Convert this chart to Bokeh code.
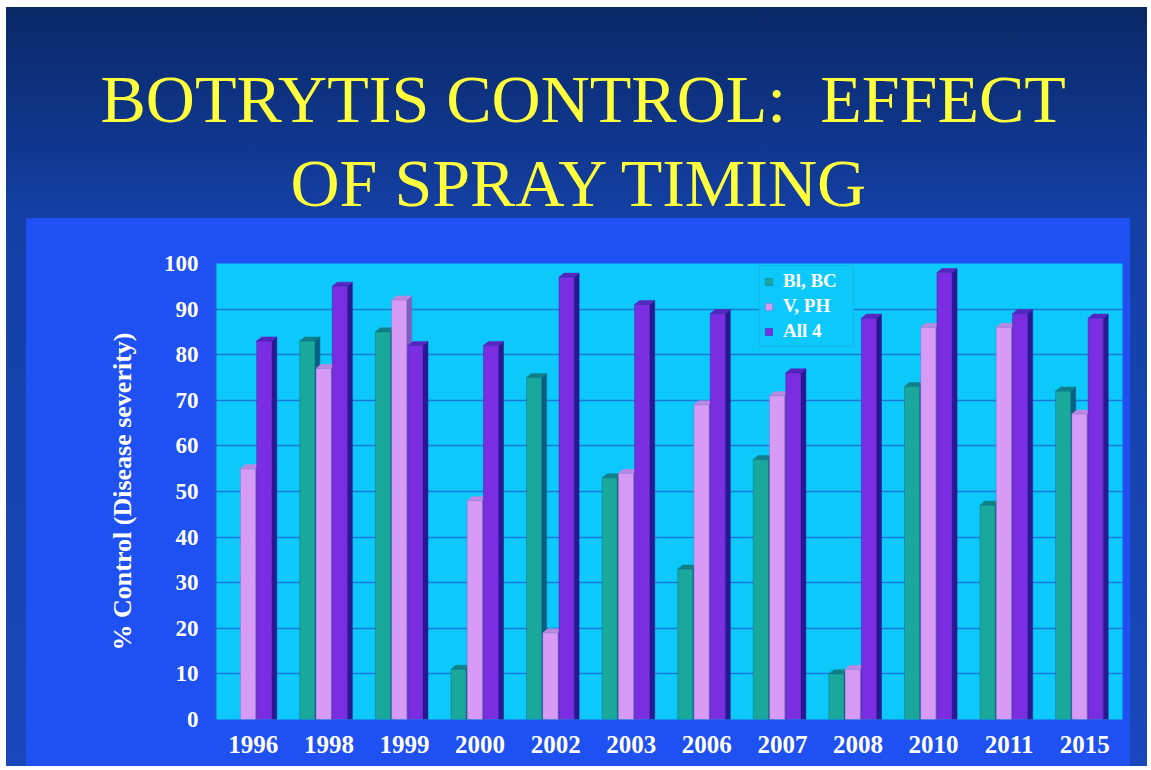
import numpy as np
from bokeh.plotting import figure
from bokeh.models import Range1d, FixedTicker, Legend, LegendItem, Title
from bokeh.embed import file_html
from bokeh.resources import INLINE

# ---------------- data ----------------
years = ["1996", "1998", "1999", "2000", "2002", "2003",
         "2006", "2007", "2008", "2010", "2011", "2015"]
bl_bc = [None, 83, 85, 11, 75, 53, 33, 57, 10, 73, 47, 72]
v_ph = [55, 77, 92, 48, 19, 54, 69, 71, 11, 86, 86, 67]
all_4 = [83, 95, 82, 82, 97, 91, 89, 76, 88, 98, 89, 88]
series_names = ["Bl, BC", "V, PH", "All 4"]
y_ticks = [0, 10, 20, 30, 40, 50, 60, 70, 80, 90, 100]
title_lines = ["BOTRYTIS CONTROL:\u00a0 EFFECT", "OF SPRAY TIMING"]
y_title = "% Control (Disease severity)"

# ---------------- styles ----------------
SERIF = "Liberation Serif"
PANEL = "#1f50f2"
CYAN = "#0dc8fb"
styles = [
    # front, top, side, offset
    ("#19a89b", "#0f8088", "#0a5f80", -0.285),
    ("#d79bf6", "#b98ae2", "#7e5fbf", -0.07),
    ("#7b2de2", "#5626c0", "#2a1890", 0.145),
]
W = 0.20     # bar width (category units)
DX = 0.066   # depth in x
DY = 0.9     # depth in y (value units)

CW, CH = 1141, 759                  # canvas size
FL, FR, FT, FB = 209, 25, 256, 47   # frame borders

bg = ("linear-gradient(%s, %s) 20px 211px / 1104px 548px no-repeat, "
      "linear-gradient(180deg, #0a2866 0%%, #1440a6 28%%, #1a48bb 100%%)" % (PANEL, PANEL))

n = len(years)
centers = list(range(1, n + 1))
p = figure(width=CW, height=CH, output_backend="svg", toolbar_location=None,
           x_range=Range1d(0.5, n + 0.5), y_range=Range1d(0, 100),
           min_border_left=FL, min_border_right=FR, min_border_top=FT,
           min_border_bottom=FB, margin=(7, 0, 0, 6),
           styles={"background": bg})
p.border_fill_alpha = 0
p.background_fill_color = CYAN
p.outline_line_color = None
p.xgrid.visible = False
p.ygrid.ticker = FixedTicker(ticks=y_ticks)
p.ygrid.grid_line_color = "#1a78d6"
p.ygrid.grid_line_width = 1.5

fronts = []
for data, (fc, tc, sc, off) in zip([bl_bc, v_ph, all_4], styles):
    vals = np.array([np.nan if v is None else v for v in data], dtype=float)
    mask = ~np.isnan(vals)
    xc = np.array(centers, dtype=float)[mask] + off
    vv = vals[mask]
    x0 = xc - W / 2
    x1 = xc + W / 2
    side_xs = [[b, b + DX, b + DX, b] for b in x1]
    side_ys = [[v, v + DY, 0, 0] for v in vv]
    top_xs = [[a, a + DX, b + DX, b] for a, b in zip(x0, x1)]
    top_ys = [[v, v + DY, v + DY, v] for v in vv]
    p.patches(side_xs, side_ys, fill_color=sc, line_color=sc, line_width=0.5)
    p.patches(top_xs, top_ys, fill_color=tc, line_color=tc, line_width=0.5)
    r = p.vbar(x=xc, top=vv, bottom=0, width=W, fill_color=fc,
               line_color=sc, line_width=0.6, line_alpha=0.6)
    fronts.append(r)

# axes
p.xaxis.ticker = FixedTicker(ticks=centers)
p.xaxis.major_label_overrides = {c: y for c, y in zip(centers, years)}
p.yaxis.ticker = FixedTicker(ticks=y_ticks)
for ax in (p.xaxis, p.yaxis):
    ax.major_tick_line_color = None
    ax.minor_tick_line_color = None
    ax.major_tick_out = 0
    ax.major_tick_in = 0
    ax.major_label_text_font = SERIF
    ax.major_label_text_font_style = "bold"
    ax.major_label_text_color = "#ffffff"
p.xaxis.axis_line_color = None
p.xaxis.major_label_text_font_size = "25px"
p.xaxis.major_label_standoff = 16
p.yaxis.axis_line_color = "#1a5fd8"
p.yaxis.axis_line_width = 2
p.yaxis.major_label_text_font_size = "23px"
p.yaxis.major_label_standoff = 17
p.yaxis.axis_label = y_title
p.yaxis.axis_label_text_font = SERIF
p.yaxis.axis_label_text_font_style = "bold"
p.yaxis.axis_label_text_font_size = "26px"
p.yaxis.axis_label_text_color = "#ffffff"
p.yaxis.axis_label_standoff = 24

legend = Legend(items=[LegendItem(label=nm, renderers=[r]) for nm, r in zip(series_names, fronts)],
                location=(544, 372), padding=4, spacing=3, margin=0,
                glyph_width=9, glyph_height=9, label_standoff=10, label_height=22,
                label_width=66,
                label_text_font=SERIF, label_text_font_style="bold",
                label_text_font_size="19px", label_text_color="#ffffff",
                background_fill_color=CYAN, background_fill_alpha=1,
                border_line_color="#2a9ee0", border_line_width=1.5)
p.add_layout(legend)

# ---------------- title (two lines) ----------------
# line 2 sits nearest the frame; the plot's own title (line 1) goes outermost
line2 = Title(text=title_lines[1], align="left", offset=75, standoff=86,
              text_font=SERIF, text_font_style="normal", text_font_size="68px",
              text_color="#ffff3c")
p.add_layout(line2, "above")
p.title.text = title_lines[0]
p.title.align = "left"
p.title.offset = -115
p.title.standoff = -74
p.title.text_font = SERIF
p.title.text_font_style = "normal"
p.title.text_font_size = "68px"
p.title.text_color = "#ffff3c"

open("out.html", "w").write(file_html(p, INLINE))
